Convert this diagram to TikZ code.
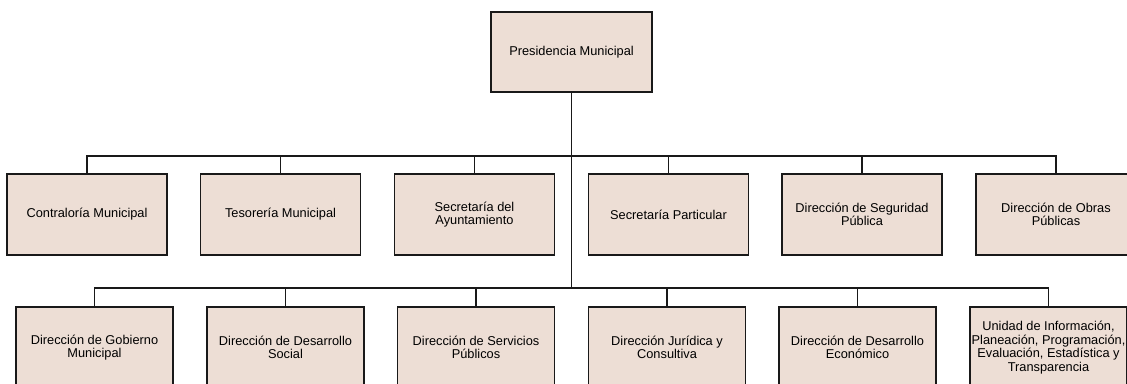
\documentclass[tikz,border=0pt]{standalone}
\usepackage{fontspec}
\setmainfont{Liberation Sans}
\definecolor{boxfill}{RGB}{237,222,213}
\definecolor{linegray}{RGB}{25,25,25}
\begin{document}
\begin{tikzpicture}[x=1pt, y=-1pt,
  box/.style={draw=linegray, line width=1.5pt, fill=boxfill, inner sep=0.5pt,
    minimum width=160pt, minimum height=81pt, align=center,
    font=\fontsize{12.8}{13.5}\selectfont},
  link/.style={draw=linegray, line width=1.3pt}]
\useasboundingbox (0,0) rectangle (1127,383);
\clip (0,0) rectangle (1127,383);
\node[box, minimum width=161pt, minimum height=80pt] (pres) at (571.5,52) {Presidencia Municipal};
\coordinate (bus1) at (571.5,156);
\coordinate (bus2) at (571.5,288);
\draw[link] (pres.south) -- (bus2);
% first row
\foreach \n / \x / \t in {ca/87/{Contraloría Municipal}, te/280.5/{Tesorería Municipal},
  sa/474.5/{Secretaría del\\ Ayuntamiento}, sp/668.5/{Secretaría Particular},
  sg/862/{Dirección de Seguridad\\ Pública}, op/1056/{Dirección de Obras\\ Públicas}}
{
	\node[box] (\n) at (\x,214.5) {\t};
	\draw[link] (\n.north) |- (bus1);
}
% second row
\foreach \n / \x / \t in {gm/94.5/{Dirección de Gobierno\\ Municipal}, ds/285.5/{Dirección de Desarrollo\\ Social},
  spu/476/{Dirección de Servicios\\ Públicos}, jc/667/{Dirección Jurídica y\\ Consultiva},
  de/857.5/{Dirección de Desarrollo\\ Económico},
  ui/1048.5/{Unidad de Información,\\ Planeación, Programación,\\ Evaluación, Estadística y\\ Transparencia}}
{
	\node[box, minimum width=157pt] (\n) at (\x,347.5) {\t};
	\draw[link] (\n.north) |- (bus2);
}
\end{tikzpicture}
\end{document}
